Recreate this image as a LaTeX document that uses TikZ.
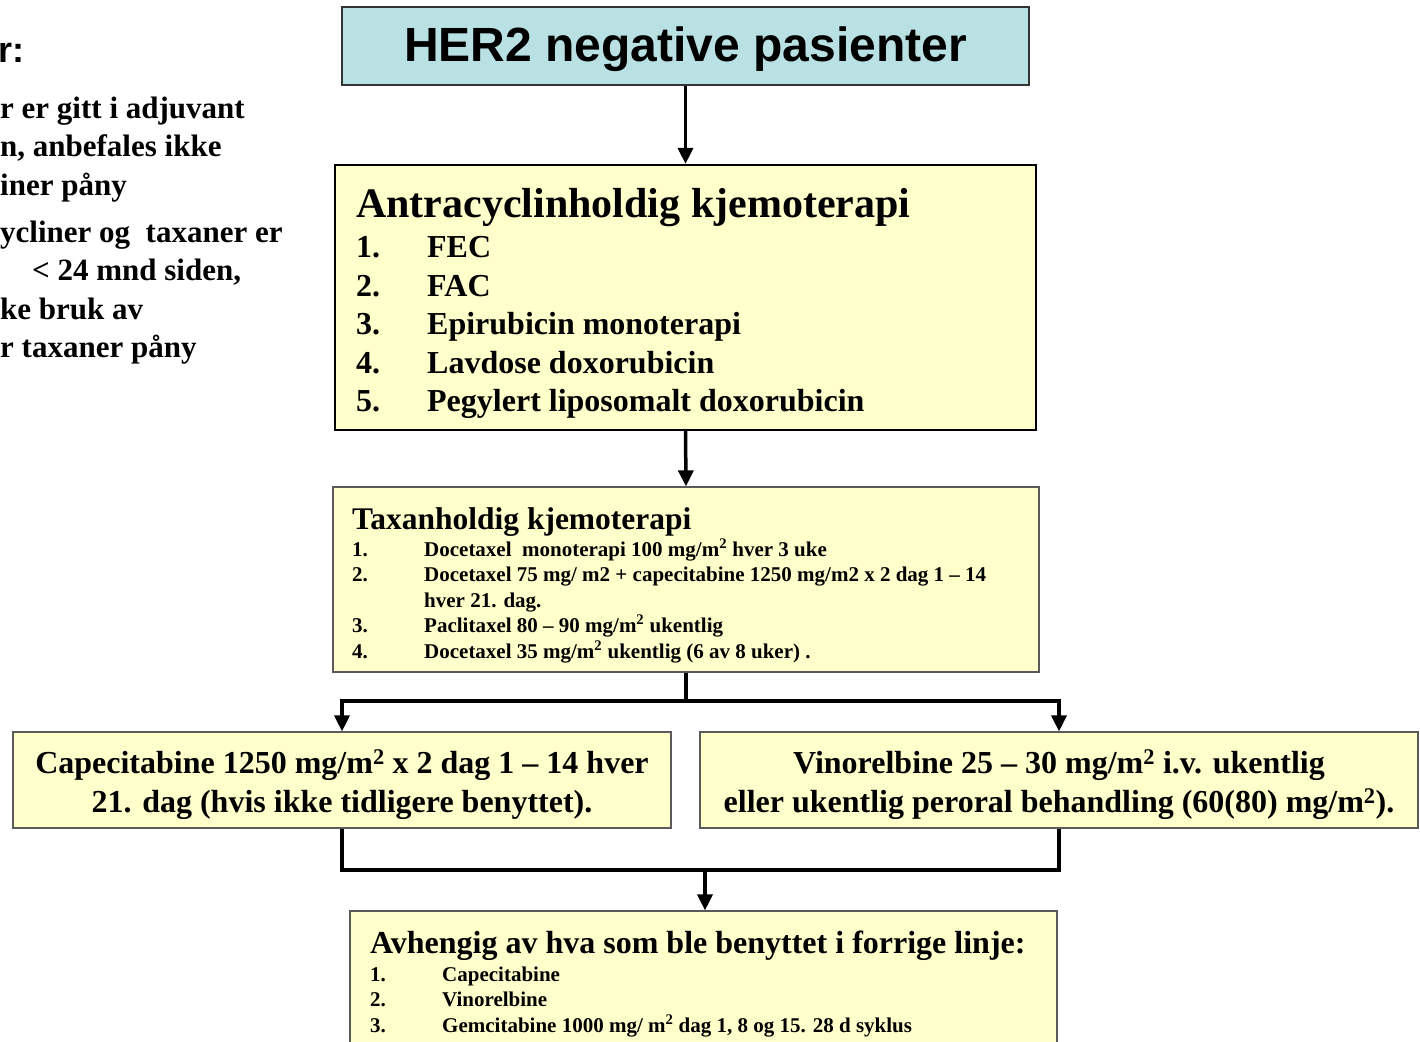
\documentclass[tikz,border=0pt]{standalone}
\usepackage{fontspec}
\setmainfont{Liberation Serif}
\newfontfamily\headfont{Liberation Sans}
\usetikzlibrary{arrows.meta}
\definecolor{boxyellow}{HTML}{FFFFCC}
\definecolor{boxteal}{HTML}{B9E0E3}
\definecolor{rimgray}{HTML}{5A5A5A}
\newcommand{\fsz}[2]{\fontsize{#1}{#2}\selectfont\bfseries}

\begin{document}
\begin{tikzpicture}[x=1pt, y=-1pt,
  box/.style={draw=rimgray, line width=1.2pt, fill=boxyellow, inner sep=0pt},
  flow/.style={line width=3.5pt},
  flowarr/.style={flow, -{Triangle[length=16pt, width=15pt]}},
  lbl/.style={inner sep=0pt, anchor=base west}]
  \path[use as bounding box, clip] (0,0) rectangle (1420,1041);
  % merknader (cut at the left edge)
  \node[lbl, font=\headfont\fontsize{36}{40}\selectfont\bfseries] (notehead) at (-2,63) {r:};
  \node[lbl, font=\fsz{31}{38.5}] (notes) at (0,118) {\begin{tabular}[t]{@{}l@{}}
    r er gitt i adjuvant\\ n, anbefales ikke\\ iner påny\\[8.5pt]
    ycliner og\ \ taxaner er\\ \hspace{32pt}< 24 mnd siden,\\ ke bruk av\\ r taxaner påny
  \end{tabular}};
  % boxes
  \node[box, fill=boxteal, draw=black!80, line width=1.5pt, minimum width=687pt, minimum height=78pt,
    text height=40.5pt, text depth=10pt,
    font=\headfont\fontsize{48}{56}\selectfont\bfseries] (her) at (685.5,46) {HER2 negative pasienter};
  \node[box, draw=black, line width=2.2pt, minimum width=701pt, minimum height=265pt] (antra) at (685.5,297.5) {};
  \node[lbl, font=\fsz{42}{48}] (antratitle) at (356,217) {Antracyclinholdig kjemoterapi};
  \node[lbl, font=\fsz{32}{38.5}] (antralist) at (356,257.5) {\begin{tabular}[t]{@{}p{71pt}@{}l@{}}
    1.&FEC\\ 2.&FAC\\ 3.&Epirubicin monoterapi\\ 4.&Lavdose doxorubicin\\ 5.&Pegylert liposomalt doxorubicin
  \end{tabular}};
  \node[box, minimum width=706pt, minimum height=185pt] (taxan) at (686,579.5) {};
  \node[lbl, font=\fsz{31.5}{36}] (taxantitle) at (352,529) {Taxanholdig kjemoterapi};
  \node[lbl, font=\fsz{21}{25.5}] (taxanlist) at (352,556) {\begin{tabular}[t]{@{}p{72pt}@{}l@{}}
    1.&Docetaxel\ \ monoterapi 100 mg/m\textsuperscript{2} hver 3 uke\\
    2.&Docetaxel 75 mg/ m2 + capecitabine 1250 mg/m2 x 2 dag 1 – 14\\
    &hver 21. dag.\\
    3.&Paclitaxel 80 – 90 mg/m\textsuperscript{2} ukentlig\\
    4.&Docetaxel 35 mg/m\textsuperscript{2} ukentlig (6 av 8 uker) .
  \end{tabular}};
  \node[box, minimum width=658pt, minimum height=96pt, align=center, font=\fsz{32}{39}] (capbox) at (342,780)
    {\rule{0pt}{34pt}Capecitabine 1250 mg/m\textsuperscript{2} x 2 dag 1 – 14 hver\\ 21. dag (hvis ikke tidligere benyttet).};
  \node[box, minimum width=718pt, minimum height=96pt, align=center, font=\fsz{32}{39}] (vinbox) at (1059,780)
    {\rule{0pt}{34pt}Vinorelbine 25 – 30 mg/m\textsuperscript{2} i.v. ukentlig\\ eller ukentlig peroral behandling (60(80) mg/m\textsuperscript{2}).};
  \node[box, minimum width=707pt, minimum height=150pt] (avh) at (703.5,986) {};
  \node[lbl, font=\fsz{32}{38}] (avhtitle) at (370,953.5) {Avhengig av hva som ble benyttet i forrige linje:};
  \node[lbl, font=\fsz{21}{25.5}] (avhlist) at (370,981) {\begin{tabular}[t]{@{}p{72pt}@{}l@{}}
    1.&Capecitabine\\ 2.&Vinorelbine\\ 3.&Gemcitabine 1000 mg/ m\textsuperscript{2} dag 1, 8 og 15. 28 d syklus
  \end{tabular}};
  % connectors
  \coordinate (split) at (686,701);
  \coordinate (merge) at (705,870);
  \draw[flowarr] (her.south) -- (antra.north);
  \draw[flowarr] (antra.south) -- (taxan.north);
  \draw[flow] (taxan.south) -- (split);
  \draw[flowarr] (split) -| (capbox.north);
  \draw[flowarr] (split) -| (vinbox.north);
  \draw[flow] (capbox.south) |- (merge) -| (vinbox.south);
  \draw[flowarr] (merge) -- (avh.north -| merge);
\end{tikzpicture}
\end{document}
